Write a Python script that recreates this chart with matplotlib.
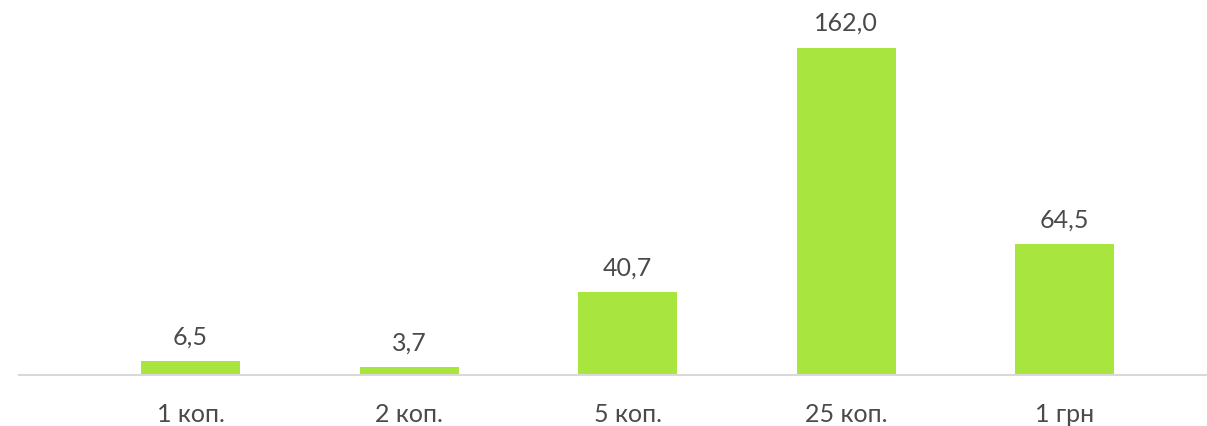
import matplotlib.pyplot as plt
import numpy as np

# coin denominations and values
categories = ["1 коп.", "2 коп.", "5 коп.", "25 коп.", "1 грн"]
values = [6.5, 3.7, 40.7, 162.0, 64.5]
labels = ["6,5", "3,7", "40,7", "162,0", "64,5"]

plt.rcParams['font.family'] = ['Lato', 'DejaVu Sans']

fig = plt.figure(figsize=(12.07, 4.27), dpi=100)
ax = fig.add_axes([0.0157, 0.1206, 0.9835, 0.8794])

x = np.arange(len(categories))
bars = ax.bar(x, values, width=0.453, color='#a8e63f', zorder=2)

for b, lab in zip(bars, labels):
    ax.annotate(lab, (b.get_x() + b.get_width() / 2, b.get_height()),
                xytext=(0, 10), textcoords='offset points',
                ha='center', va='bottom', fontsize=18, color='#4a4a4a')

ax.set_xlim(-0.785, 4.647)
ax.set_ylim(0, 186.1)

ax.set_xticks(x)
ax.set_xticklabels(categories, fontsize=18, color='#4a4a4a')
ax.tick_params(axis='x', length=0, pad=20)
ax.set_yticks([])

for s in ['top', 'right', 'left']:
    ax.spines[s].set_visible(False)
ax.spines['bottom'].set_color('#d9d9d9')
ax.spines['bottom'].set_linewidth(1.5)

fig.savefig('out.png', dpi=100)
